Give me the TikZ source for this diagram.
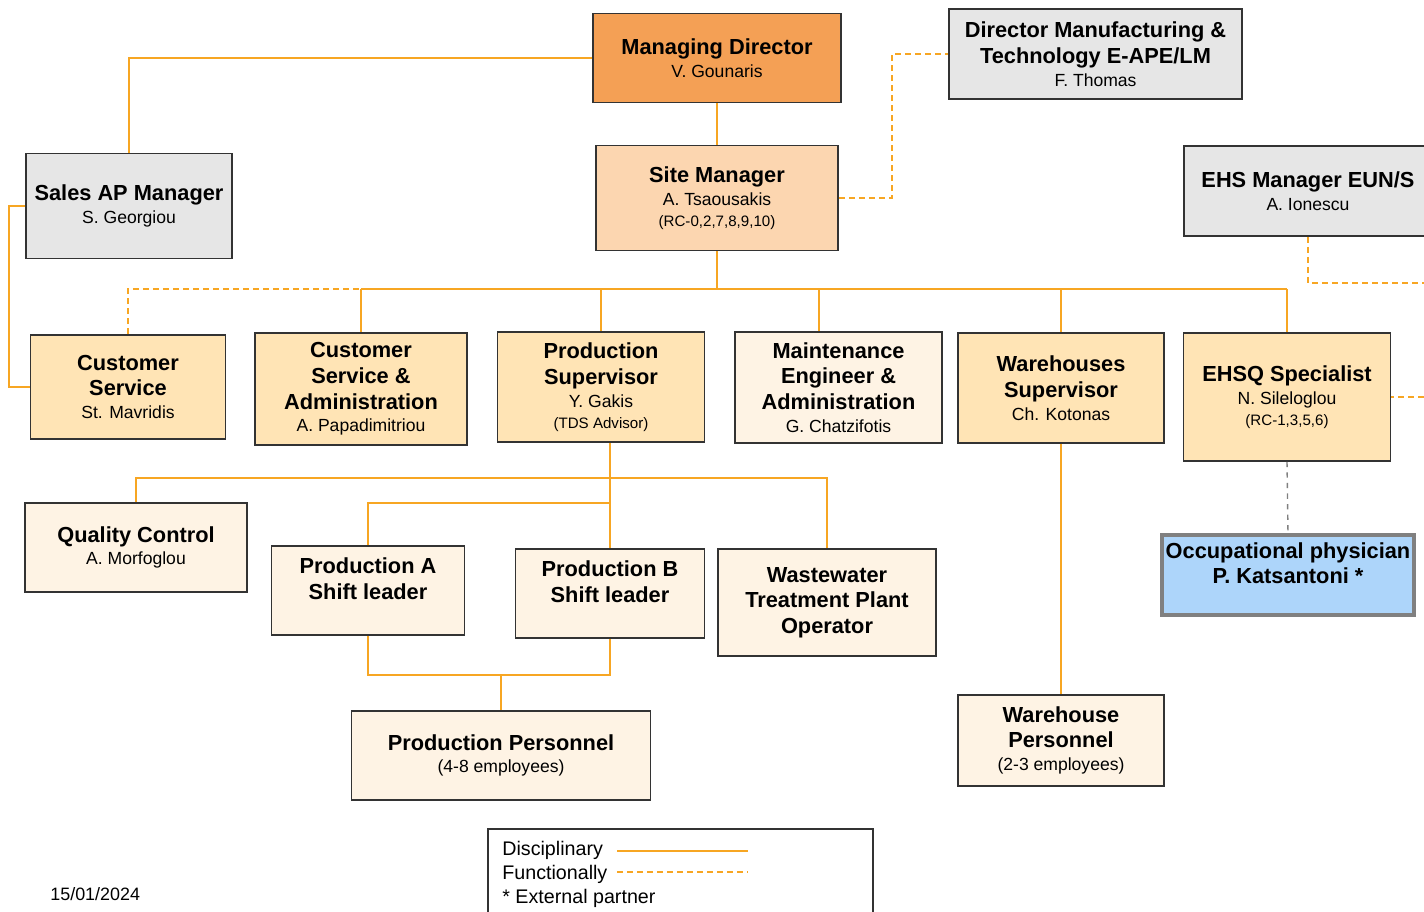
\documentclass[tikz,border=0pt]{standalone}
\usepackage{fontspec}
\setmainfont{Liberation Sans}

\definecolor{lineor}{RGB}{247,166,35}
\definecolor{boxline}{RGB}{51,51,51}
\definecolor{mdfill}{RGB}{244,160,85}
\definecolor{sitefill}{RGB}{252,214,176}
\definecolor{midfill}{RGB}{255,228,181}
\definecolor{lowfill}{RGB}{254,243,228}
\definecolor{grayfill}{RGB}{230,230,230}
\definecolor{extfill}{RGB}{173,213,250}
\definecolor{extline}{RGB}{128,128,128}

\newcommand{\titlefont}{\fontsize{12.4}{14.6}\selectfont\bfseries}
\newcommand{\namefont}{\fontsize{10}{12}\selectfont\mdseries}
\newcommand{\rcfont}{\fontsize{8.6}{10}\selectfont\mdseries}

\tikzset{
	unit/.style={draw=boxline, line width=1pt, inner sep=0pt, align=center, font=\titlefont},
	topbox/.style={unit, fill=mdfill},
	sitebox/.style={unit, fill=sitefill},
	graybox/.style={unit, fill=grayfill},
	midbox/.style={unit, fill=midfill},
	lowbox/.style={unit, fill=lowfill},
	extbox/.style={unit, draw=extline, line width=2pt, fill=extfill},
	raised/.style={text depth=13.5pt},
	disc/.style={draw=lineor, line width=0.04cm},
	func/.style={disc, dash pattern=on 3.4pt off 2.3pt},
	extlink/.style={draw=extline, line width=0.8pt, dash pattern=on 3pt off 3pt},
	legtext/.style={anchor=base west, inner sep=0pt, font=\fontsize{11.2}{13.6}\selectfont}
}

\begin{document}
\begin{tikzpicture}[x=0.02cm, y=-0.02cm]
	\useasboundingbox (0,0) rectangle (1424,912);

	% Top
	\node[topbox, minimum width=4.96cm, minimum height=1.78cm] (md) at (717,58) {Managing Director\\[-1.6pt] \namefont V. Gounaris};
	\node[graybox, minimum width=5.86cm, minimum height=1.80cm] (dir) at (1095.5,54) {Director Manufacturing \&\\ Technology E-APE/LM\\[-1.6pt] \namefont F. Thomas};
	\node[sitebox, minimum width=4.84cm, minimum height=2.10cm] (site) at (717,198) {Site Manager\\[-1.6pt] \namefont A. Tsaousakis\\[-2.7pt] \rcfont (RC-0,2,7,8,9,10)};
	\node[graybox, minimum width=4.12cm, minimum height=2.10cm] (sales) at (129,206) {Sales AP Manager\\[-1.6pt] \namefont S. Georgiou};
	\node[graybox, minimum width=4.96cm, minimum height=1.80cm] (ehs) at (1308,191) {EHS Manager EUN/S\\[-1.6pt] \namefont A. Ionescu};

	% Second row
	\node[midbox, minimum width=3.90cm, minimum height=2.08cm] (cs) at (128,387) {Customer\\ Service\\[-1.6pt] \namefont St. Mavridis};
	\node[midbox, minimum width=4.24cm, minimum height=2.24cm] (csa) at (361,389) {Customer\\ Service \&\\ Administration\\[-1.6pt] \namefont A. Papadimitriou};
	\node[midbox, minimum width=4.14cm, minimum height=2.20cm] (psup) at (601,387) {Production\\ Supervisor\\[-1.6pt] \namefont Y. Gakis\\[-2.7pt] \rcfont (TDS Advisor)};
	\node[lowbox, minimum width=4.14cm, minimum height=2.22cm] (maint) at (838.5,387.5) {Maintenance\\ Engineer \&\\ Administration\\[-1.6pt] \namefont G. Chatzifotis};
	\node[midbox, minimum width=4.12cm, minimum height=2.20cm] (wh) at (1061,388) {Warehouses\\ Supervisor\\[-1.6pt] \namefont Ch. Kotonas};
	\node[midbox, minimum width=4.14cm, minimum height=2.56cm] (ehsq) at (1287,397) {EHSQ Specialist\\[-1.6pt] \namefont N. Sileloglou\\[-2.7pt] \rcfont (RC-1,3,5,6)};

	% Production
	\node[lowbox, minimum width=4.44cm, minimum height=1.78cm] (qc) at (136,547.5) {Quality Control\\[-1.6pt] \namefont A. Morfoglou};
	\node[lowbox, raised, minimum width=3.86cm, minimum height=1.78cm] (pa) at (368,590.5) {Production A\\ Shift leader};
	\node[lowbox, raised, minimum width=3.78cm, minimum height=1.78cm] (pb) at (610,593.5) {Production B\\ Shift leader};
	\node[lowbox, minimum width=4.36cm, minimum height=2.14cm] (ww) at (827,602.5) {Wastewater\\ Treatment Plant\\ Operator};
	\node[lowbox, minimum width=5.98cm, minimum height=1.78cm] (pp) at (501,755.5) {Production Personnel\\[-1.6pt] \namefont (4-8 employees)};
	\node[lowbox, minimum width=4.12cm, minimum height=1.82cm] (whp) at (1061,740.5) {Warehouse\\ Personnel\\[-1.6pt] \namefont (2-3 employees)};
	\node[extbox, raised, minimum width=5.04cm, minimum height=1.60cm] (occ) at (1288,575) {Occupational physician\\ P. Katsantoni *};

	% Lines from the top
	\draw[disc] (md.west) -| (sales.north);
	\draw[disc] (md) -- (site);
	\draw[func] (site.east) -| ([xshift=-1.12cm]dir.west) -- (dir.west);
	\draw[disc] (sales.west) -- ++(-16,0) |- (cs.west);

	% Site manager bus
	\coordinate (bus1) at (717,289);
	\draw[disc] (site.south) -- (bus1);
	\draw[disc] (csa.north |- bus1) -- (ehsq.north |- bus1);
	\foreach \n in {csa,psup,wh,ehsq}
		\draw[disc] (\n.north) -- (\n.north |- bus1);
	\draw[disc] ([xshift=-0.39cm]maint.north) -- ([xshift=-0.39cm]maint.north |- bus1);
	\draw[func] (cs.north) |- (csa.north |- bus1);

	% EHS
	\coordinate (ehsout) at (1436,283);
	\draw[func] (ehs.south) |- (ehsout) |- (ehsq.east);
	\draw[extlink] (ehsq.south) -- (occ.north);

	% Production lines
	\coordinate (pbus) at (610,478);
	\coordinate (abus) at (610,503);
	\coordinate (pjoin) at (501,675);
	\draw[disc] (pb.north |- psup.south) -- (pb.north);
	\draw[disc] (qc.north) |- (pbus) -| (ww.north);
	\draw[disc] (pa.north) |- (abus);
	\draw[disc] (pa.south) |- (pjoin) -| (pb.south);
	\draw[disc] (pjoin) -- (pp.north);
	\draw[disc] (wh) -- (whp);

	% Legend
	\draw[draw=boxline, line width=1pt] (488,829) rectangle (873,930);
	\node[legtext] (ldisc) at (502,855) {Disciplinary};
	\node[legtext] (lfunc) at (502,879) {Functionally};
	\node[legtext] (lext) at (502,903) {* External partner};
	\draw[disc] (617,851) -- (748,851);
	\draw[func] (617,872) -- (748,872);

	% Date
	\node[anchor=base west, inner sep=0pt, font=\fontsize{10.2}{12}\selectfont] (date) at (50,900) {15/01/2024};
\end{tikzpicture}
\end{document}
